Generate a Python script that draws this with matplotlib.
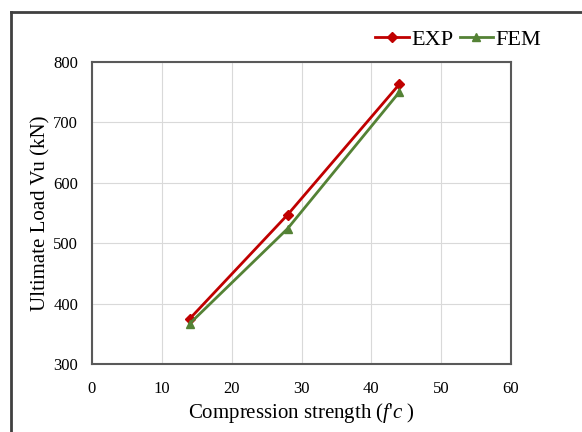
import matplotlib.pyplot as plt
from matplotlib.lines import Line2D

plt.rcParams['font.family'] = ['Liberation Serif', 'DejaVu Serif']
plt.rcParams['mathtext.fontset'] = 'custom'
plt.rcParams['mathtext.it'] = 'Liberation Serif:italic'
plt.rcParams['mathtext.rm'] = 'Liberation Serif'

fc = [14, 28, 44]
exp_vu = [375, 547, 763]
fem_vu = [367, 524, 750]

fig = plt.figure(figsize=(5.82, 4.32), dpi=100)
ax = fig.add_axes([92 / 582, 1 - 364 / 432, (511 - 92) / 582, (364 - 62) / 432])

ax.plot(fc, exp_vu, color='#C00000', lw=2, marker='D', ms=5, label='EXP', zorder=3)
ax.plot(fc, fem_vu, color='#548235', lw=2, marker='^', ms=6, label='FEM', zorder=3)

ax.set_xlim(0, 60)
ax.set_ylim(300, 800)
ax.set_xticks(range(0, 61, 10))
ax.set_yticks(range(300, 801, 100))
ax.grid(True, color='#D9D9D9', lw=0.8)
ax.set_axisbelow(True)
ax.tick_params(length=0, labelsize=12)
ax.tick_params(axis='x', pad=12)
ax.tick_params(axis='y', pad=10)
for s in ax.spines.values():
    s.set_color('#595959')
    s.set_linewidth(1.5)

ax.set_xlabel("Compression strength $(f$'$c\\ )$", fontsize=15, labelpad=3)
ax.set_ylabel('Ultimate Load Vu (kN)', fontsize=15, labelpad=2)

fig.legend(loc='upper right', bbox_to_anchor=(561 / 582, 1 - 9 / 432), ncol=2, frameon=False,
           fontsize=16, handlelength=1.5, handletextpad=0.1, columnspacing=0.3)

# outer frame of the figure
fig.add_artist(Line2D([11 / 582, 11 / 582], [0, 1 - 12 / 432], transform=fig.transFigure,
                      color='#404040', lw=2))
fig.add_artist(Line2D([11 / 582, 1], [1 - 12 / 432, 1 - 12 / 432], transform=fig.transFigure,
                      color='#404040', lw=2))

fig.savefig('out.png', dpi=100)
